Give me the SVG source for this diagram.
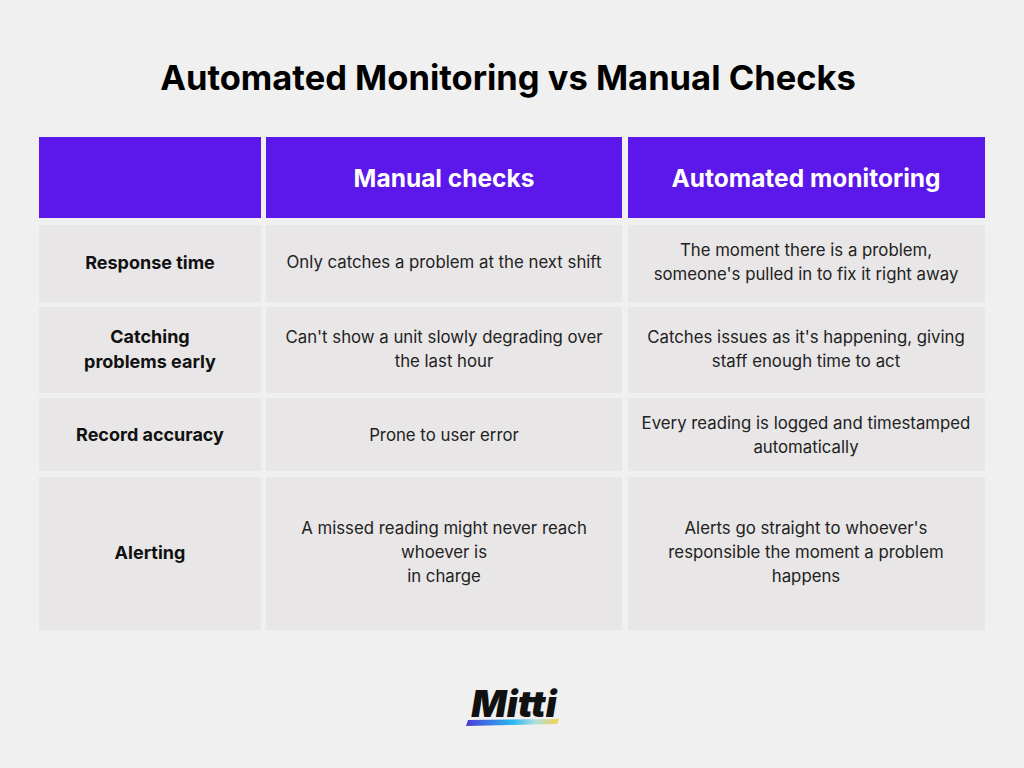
<svg xmlns="http://www.w3.org/2000/svg" width="1024" height="768" viewBox="0 0 1024 768">
<style>
.h{fill:#5c17ea}.c{fill:#e8e6e6}
text{font-family:Inter,"Noto Sans",sans-serif;text-anchor:middle}
.t{font-size:34.5px;font-weight:700;fill:#000}
.hd{font-size:24.5px;font-weight:700;fill:#fff}
.l{font-size:18px;font-weight:700;fill:#111}
.b{font-size:16.8px;fill:#222}
</style>
<defs><linearGradient id="g" x1="0" x2="1"><stop offset="0" stop-color="#4b3bd8"/><stop offset="0.5" stop-color="#2ab8f0"/><stop offset="0.75" stop-color="#b0e0e0"/><stop offset="1" stop-color="#f8d24a"/></linearGradient></defs>
<rect width="1024" height="768" fill="#f0f0f0"/>
<text class="t" x="508" y="90">Automated Monitoring vs Manual Checks</text>
<g id="header">
<rect class="h" x="39" y="137" width="222" height="81"/>
<rect class="h" x="266" y="137" width="356" height="81"/>
<rect class="h" x="628" y="137" width="357" height="81"/>
<text class="hd" x="444" y="187">Manual checks</text>
<text class="hd" x="806" y="187">Automated monitoring</text>
</g>
<g id="row1">
<rect class="c" x="39" y="225" width="222" height="77"/>
<rect class="c" x="266" y="225" width="356" height="77"/>
<rect class="c" x="628" y="225" width="357" height="77"/>
<text class="l" x="150" y="269">Response time</text>
<text class="b" x="444" y="268">Only catches a problem at the next shift</text>
<text class="b" x="806" y="256">The moment there is a problem,</text>
<text class="b" x="806" y="280">someone's pulled in to fix it right away</text>
</g>
<g id="row2">
<rect class="c" x="39" y="307" width="222" height="86"/>
<rect class="c" x="266" y="307" width="356" height="86"/>
<rect class="c" x="628" y="307" width="357" height="86"/>
<text class="l" x="150" y="343">Catching</text>
<text class="l" x="150" y="368">problems early</text>
<text class="b" x="444" y="343">Can't show a unit slowly degrading over</text>
<text class="b" x="444" y="367">the last hour</text>
<text class="b" x="806" y="343">Catches issues as it's happening, giving</text>
<text class="b" x="806" y="367">staff enough time to act</text>
</g>
<g id="row3">
<rect class="c" x="39" y="398" width="222" height="73"/>
<rect class="c" x="266" y="398" width="356" height="73"/>
<rect class="c" x="628" y="398" width="357" height="73"/>
<text class="l" x="150" y="441">Record accuracy</text>
<text class="b" x="444" y="441">Prone to user error</text>
<text class="b" x="806" y="429">Every reading is logged and timestamped</text>
<text class="b" x="806" y="453">automatically</text>
</g>
<g id="row4">
<rect class="c" x="39" y="477" width="222" height="153"/>
<rect class="c" x="266" y="477" width="356" height="153"/>
<rect class="c" x="628" y="477" width="357" height="153"/>
<text class="l" x="150" y="559">Alerting</text>
<text class="b" x="444" y="534">A missed reading might never reach</text>
<text class="b" x="444" y="558">whoever is</text>
<text class="b" x="444" y="582">in charge</text>
<text class="b" x="806" y="534">Alerts go straight to whoever's</text>
<text class="b" x="806" y="558">responsible the moment a problem</text>
<text class="b" x="806" y="582">happens</text>
</g>
<g id="logo">
<text x="514" y="717" style="font-size:37px;font-weight:900;font-style:italic;fill:#111">Mitti</text>
<path d="M468 720 L559 719 L557 724 L466 726 Z" fill="url(#g)"/>
</g>
</svg>
